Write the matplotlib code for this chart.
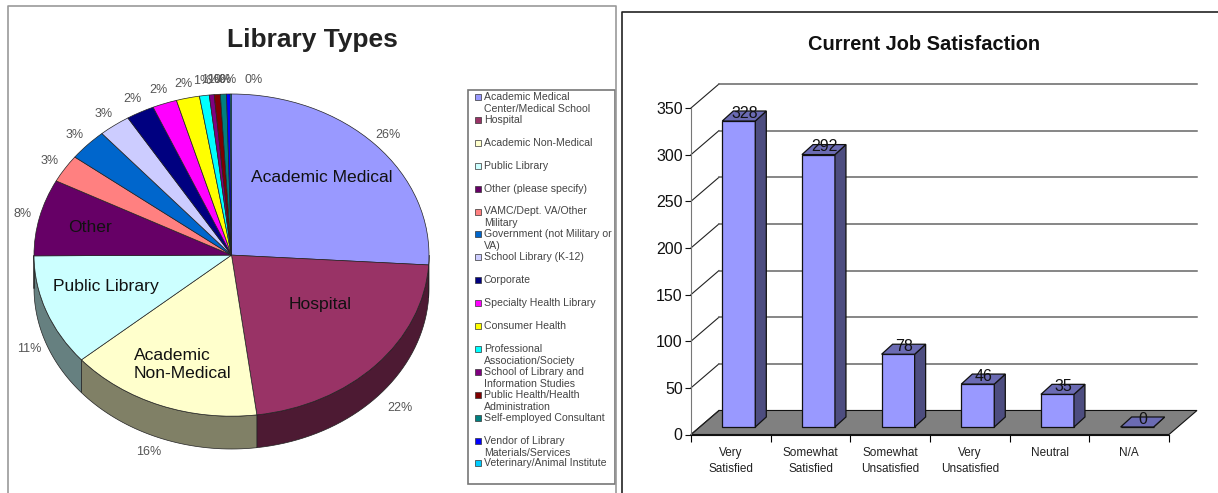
# Two survey charts side by side: library types (pie) and job satisfaction (bars),
# both drawn with a fake Excel style 3D look.

import numpy as np
import matplotlib
matplotlib.use('Agg')
import matplotlib.pyplot as plt
from matplotlib.patches import Rectangle
from matplotlib.lines import Line2D

plt.rcParams['font.family'] = ['Liberation Sans', 'DejaVu Sans']

W, H = 1218, 493

library_types = ['Academic Medical\nCenter/Medical School', 'Hospital', 'Academic Non-Medical',
                 'Public Library', 'Other (please specify)', 'VAMC/Dept. VA/Other\nMilitary',
                 'Government (not Military or\nVA)', 'School Library (K-12)', 'Corporate',
                 'Specialty Health Library', 'Consumer Health', 'Professional\nAssociation/Society',
                 'School of Library and\nInformation Studies', 'Public Health/Health\nAdministration',
                 'Self-employed Consultant', 'Vendor of Library\nMaterials/Services',
                 'Veterinary/Animal Institute']
library_shares = [26.0, 22.0, 15.8, 11.2, 7.7, 2.8, 3.2, 2.6, 2.3, 2.0, 1.9, 0.8, 0.4, 0.5, 0.5, 0.3, 0.1]
library_labels = ['26%', '22%', '16%', '11%', '8%', '3%', '3%', '3%', '2%', '2%', '2%',
                  '1%', '1%', '1%', '0%', '0%', '0%']
library_colors = ['#9999FF', '#993366', '#FFFFCC', '#CCFFFF', '#660066', '#FF8080', '#0066CC',
                  '#CCCCFF', '#000080', '#FF00FF', '#FFFF00', '#00FFFF', '#800080', '#800000',
                  '#008080', '#0000FF', '#00CCFF']

satisfaction = ['Very\nSatisfied', 'Somewhat\nSatisfied', 'Somewhat\nUnsatisfied',
                'Very\nUnsatisfied', 'Neutral', 'N/A']
satisfaction_counts = [328, 292, 78, 46, 35, 0]
satisfaction_ticks = [0, 50, 100, 150, 200, 250, 300, 350]


def fx(x):
    return x / W


def fy(y):
    return 1 - y / H


def add_axes_px(left, top, right, bottom):
    return fig.add_axes([fx(left), fy(bottom), (right - left) / W, (bottom - top) / H])


fig = plt.figure(figsize=(W / 100, H / 100), dpi=100, facecolor='white')

# ======== Panel borders ========
fig.add_artist(Line2D([fx(8), fx(8), fx(616), fx(616)], [0, fy(6), fy(6), 0], color='#999999', lw=1.2))
fig.add_artist(Line2D([fx(622), fx(622), 1], [0, fy(12), fy(12)], color='#222222', lw=1.2))

# ======== Pie ========
pie_depth = 33 / 162
ax = add_axes_px(34, 94, 429, 449)
ax.pie(library_shares, colors=library_colors, startangle=90, counterclock=False, radius=1,
       wedgeprops={'edgecolor': '#222222', 'linewidth': 0.5, 'zorder': 3})
ax.set_aspect('auto')
ax.set_xlim(-1, 1)
ax.set_ylim(-1 - pie_depth, 1)

# Side wall of the pie, visible only on the lower half
edges = np.concatenate([[0], np.cumsum(library_shares)]) / sum(library_shares)
for i in range(len(library_shares)):
    a1 = 90 - 360 * edges[i]
    a2 = 90 - 360 * edges[i + 1]
    a_hi = min(a1, 0 if a1 > -90 else a1)
    a_lo = max(a2, -180)
    if a1 <= -270 or a_lo >= a_hi:
        continue
    t = np.radians(np.linspace(a_hi, a_lo, 40))
    xs = np.concatenate([np.cos(t), np.cos(t)[::-1]])
    ys = np.concatenate([np.sin(t), np.sin(t)[::-1] - pie_depth])
    side = [c * 0.5 for c in matplotlib.colors.to_rgb(library_colors[i])]
    ax.fill(xs, ys, color=side, ec='#222222', lw=0.5, zorder=2, clip_on=False)

# Percent labels around the pie
for i, lab in enumerate(library_labels):
    mid = np.radians(90 - 360 * (edges[i] + edges[i + 1]) / 2)
    lx = 1.09 * np.cos(mid)
    ly = 1.09 * np.sin(mid)
    if np.sin(mid) < 0:
        ly -= pie_depth
        lx = (1.09 if np.cos(mid) < -0.8 else 1.17) * np.cos(mid)
    if i == len(library_labels) - 1:
        lx += 0.115
    ax.text(lx, ly, lab, ha='center', va='center', fontsize=9, color='#555555', clip_on=False)

inside_labels = [('Academic Medical', 322, 178, 'center'), ('Hospital', 320, 305, 'center'),
                 ('Academic\nNon-Medical', 134, 364, 'left'), ('Public Library', 106, 287, 'center'),
                 ('Other', 90, 228, 'center')]
for lab, x, y, align in inside_labels:
    fig.text(fx(x), fy(y), lab, ha=align, va='center', fontsize=12.6, color='#111111', linespacing=1.25)

fig.text(fx(312), fy(40), 'Library Types', ha='center', va='center', fontsize=19,
         fontweight='bold', color='#222222')

# ======== Legend for the pie ========
fig.add_artist(Rectangle((fx(468), fy(484)), 147 / W, 394 / H, transform=fig.transFigure,
                         facecolor='white', edgecolor='#777777', lw=1.2))
for i, lab in enumerate(library_types):
    y = 97 + i * 22.9
    fig.add_artist(Rectangle((fx(475), fy(y + 3)), 6 / W, 6 / H, transform=fig.transFigure,
                             facecolor=library_colors[i], edgecolor='#333333', lw=0.5))
    fig.text(fx(484), fy(y - 5), lab, ha='left', va='top', fontsize=7.55, color='#444444', linespacing=1.25)

# ======== Bars ========
front = 691
cat_w = (1169 - 691) / 6
wall_dx = 28 / cat_w
wall_dy = 24 / 0.932
bar_width = 33 / cat_w
side_dx = 11 / cat_w
side_dy = 10 / 0.932
base_dy = 7.5 / 0.932

ax2 = add_axes_px(front, 108, 1169, 434.5)
ax2.set_xlim(0, 6)
ax2.set_ylim(0, 350)
ax2.patch.set_visible(False)
for s in ['top', 'right']:
    ax2.spines[s].set_visible(False)
ax2.spines['left'].set_color('#777777')
ax2.spines['bottom'].set_color('#111111')

# Floor and gridlines on the back wall
ax2.fill([0, wall_dx, 6 + wall_dx, 6], [0, wall_dy, wall_dy, 0], color='#808080', ec='#111111', lw=0.8,
         clip_on=False, zorder=1)
for v in satisfaction_ticks:
    ax2.plot([0, wall_dx], [v, v + wall_dy], color='#222222', lw=0.8, clip_on=False, zorder=1)
    if v > 0:
        ax2.plot([wall_dx, 6 + wall_dx], [v + wall_dy, v + wall_dy], color='#666666', lw=1.1,
                 clip_on=False, zorder=1)

x_pos = np.arange(len(satisfaction)) + 0.6
for x, v in zip(x_pos, satisfaction_counts):
    left = x - bar_width / 2
    right = x + bar_width / 2
    y0 = base_dy
    y1 = base_dy + v
    ax2.bar(x, v, width=bar_width, bottom=y0, color='#9999FF', edgecolor='#111111', lw=0.9, zorder=3, clip_on=False)
    ax2.fill([right, right + side_dx, right + side_dx, right], [y0, y0 + side_dy, y1 + side_dy, y1],
             color='#4D4D80', ec='#111111', lw=0.9, zorder=3, clip_on=False)
    ax2.fill([left, left + side_dx, right + side_dx, right], [y1, y1 + side_dy, y1 + side_dy, y1],
             color='#6B6BB3', ec='#111111', lw=0.9, zorder=3, clip_on=False)
    ax2.text(x + 0.07, y1 + 8.5, str(v), ha='center', va='center', fontsize=11.5, color='#111111',
             zorder=4, clip_on=False)

ax2.set_yticks(satisfaction_ticks)
ax2.tick_params(axis='y', labelsize=11.5, length=4, width=0.8, pad=2, colors='#111111')
ax2.set_xticks(np.arange(7))
ax2.set_xticklabels([])
ax2.set_xticks(np.arange(len(satisfaction)) + 0.5, labels=satisfaction, minor=True)
ax2.tick_params(axis='x', which='major', length=5, width=0.8)
ax2.tick_params(axis='x', which='minor', length=0, labelsize=8.5, pad=9, colors='#222222')
for lab in ax2.get_xticklabels(minor=True):
    lab.set_linespacing(1.45)

fig.text(fx(924), fy(44), 'Current Job Satisfaction', ha='center', va='center', fontsize=14.4,
         fontweight='bold', color='#111111')

plt.savefig('out.png', dpi=100)
plt.close()
